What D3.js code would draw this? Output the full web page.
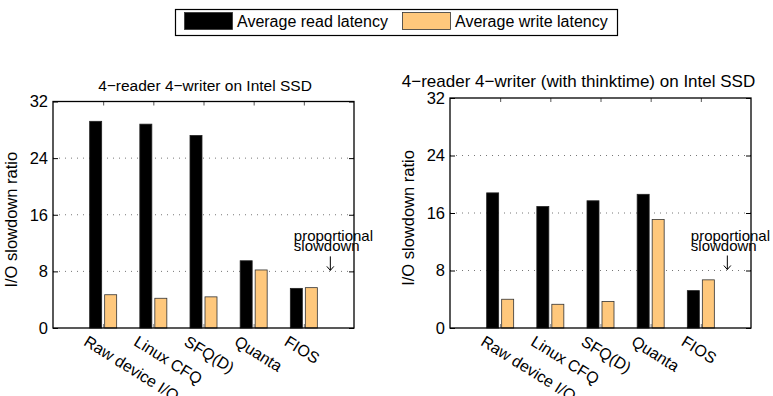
<!DOCTYPE html>
<html>
<head>
<meta charset="utf-8">
<script src="https://cdn.jsdelivr.net/npm/d3@7"></script>
<style>
  body { margin: 0; background: #fff; }
  text { font-family: "Liberation Sans", Arial, sans-serif; fill: #000; }
</style>
</head>
<body>
<div id="chart"></div>
<script>
/* DATA */
var categories = ["Raw device I/O", "Linux CFQ", "SFQ(D)", "Quanta", "FIOS"];
var readLeft  = [29.2, 28.8, 27.2, 9.5, 5.6];
var writeLeft = [4.7, 4.2, 4.4, 8.2, 5.7];
var readRight  = [18.8, 16.9, 17.7, 18.6, 5.2];
var writeRight = [4.0, 3.3, 3.7, 15.1, 6.7];
var yTicks = [0, 8, 16, 24, 32];
var seriesNames = ["Average read latency", "Average write latency"];
var colors = ["#000000", "#FFC87C"];

var width = 773;
var height = 396;

var svg = d3.select("#chart")
  .append("svg")
  .attr("width", width)
  .attr("height", height);

/* LEGEND */
var legend = svg.append("g");
legend.append("rect")
  .attr("x", 175.5).attr("y", 9.5)
  .attr("width", 442).attr("height", 26)
  .attr("fill", "#fff").attr("stroke", "#000").attr("stroke-width", 1.2);
var legendX = [184, 402];
seriesNames.forEach(function(name, i) {
  legend.append("rect")
    .attr("x", legendX[i] + 0.5).attr("y", 12.5)
    .attr("width", 48).attr("height", 17)
    .attr("fill", colors[i])
    .attr("stroke", "#333").attr("stroke-width", 0.8);
  legend.append("text")
    .attr("x", legendX[i] + 53).attr("y", 27)
    .attr("font-size", "16px")
    .text(name);
});

function drawPanel(left, right, top, bottom, title, titleSize, titleShift, readVals, writeVals) {
  var g = svg.append("g");

  var x = d3.scaleLinear().domain([0, categories.length + 1]).range([left, right]);
  var y = d3.scaleLinear().domain([0, 32]).range([bottom, top]);

  // dotted grid
  g.selectAll("line.grid")
    .data(yTicks.filter(function(d) { return d > 0 && d < 32; }))
    .enter()
    .append("line")
    .attr("x1", left).attr("x2", right)
    .attr("y1", function(d) { return y(d); })
    .attr("y2", function(d) { return y(d); })
    .attr("stroke", "#777")
    .attr("stroke-width", 1)
    .attr("stroke-dasharray", "1,5");

  // bars
  var barW = 12;
  g.selectAll("rect.read")
    .data(readVals)
    .enter()
    .append("rect")
    .attr("x", function(d, i) { return x(i + 1) - barW - 1.5; })
    .attr("y", function(d) { return y(d); })
    .attr("width", barW)
    .attr("height", function(d) { return bottom - y(d); })
    .attr("fill", colors[0])
    .attr("stroke", "#222").attr("stroke-width", 0.8);

  g.selectAll("rect.write")
    .data(writeVals)
    .enter()
    .append("rect")
    .attr("x", function(d, i) { return x(i + 1) + 1.5; })
    .attr("y", function(d) { return y(d); })
    .attr("width", barW)
    .attr("height", function(d) { return bottom - y(d); })
    .attr("fill", colors[1])
    .attr("stroke", "#333").attr("stroke-width", 0.8);

  // y axis (left labels, inward ticks) and mirrored right ticks
  var yAxis = g.append("g")
    .attr("transform", "translate(" + left + ",0)")
    .call(d3.axisLeft(y).tickValues(yTicks).tickSize(-5).tickPadding(5).tickFormat(d3.format("d")));
  yAxis.select(".domain").remove();
  yAxis.selectAll("text").attr("font-size", "16.5px")
    .style("font-family", "'Liberation Sans', Arial, sans-serif");

  var yAxisR = g.append("g")
    .attr("transform", "translate(" + right + ",0)")
    .call(d3.axisRight(y).tickValues(yTicks).tickSize(-5).tickFormat(""));
  yAxisR.select(".domain").remove();

  // top and bottom category ticks
  var catTicks = d3.range(1, categories.length + 1);
  var xTop = g.append("g")
    .attr("transform", "translate(0," + top + ")")
    .call(d3.axisTop(x).tickValues(catTicks).tickSize(-4).tickFormat(""));
  xTop.select(".domain").remove();
  xTop.selectAll("line").attr("stroke", "#555");
  var xBot = g.append("g")
    .attr("transform", "translate(0," + bottom + ")")
    .call(d3.axisBottom(x).tickValues(catTicks).tickSize(-4).tickFormat(""));
  xBot.select(".domain").remove();
  xBot.selectAll("line").attr("stroke", "#777");

  // frame
  g.append("rect")
    .attr("x", left).attr("y", top)
    .attr("width", right - left).attr("height", bottom - top)
    .attr("fill", "none").attr("stroke", "#000").attr("stroke-width", 1.3);

  // category labels
  g.selectAll("text.cat")
    .data(categories)
    .enter()
    .append("text")
    .attr("font-size", "16px")
    .attr("transform", function(d, i) {
      return "translate(" + (x(i + 1) - 20.5) + "," + (bottom + 16.5) + ") rotate(32)";
    })
    .text(function(d) { return d; });

  // title
  g.append("text")
    .attr("x", (left + right) / 2 + titleShift)
    .attr("y", top - 11)
    .attr("text-anchor", "middle")
    .attr("font-size", titleSize)
    .text(title);

  // y label
  g.append("text")
    .attr("transform", "translate(" + (left - 36) + "," + ((top + bottom) / 2 + 5) + ") rotate(-90)")
    .attr("text-anchor", "middle")
    .attr("font-size", "16.5px")
    .text("I/O slowdown ratio");

  // annotation
  var tx = x(categories.length) - 10;
  var ax = x(categories.length) + 26.5;
  g.append("text")
    .attr("x", tx).attr("y", y(8) - 30)
    .attr("font-size", "15px")
    .text("proportional");
  g.append("text")
    .attr("x", tx).attr("y", y(8) - 20)
    .attr("font-size", "15px")
    .text("slowdown");
  g.append("path")
    .attr("d", "M" + ax + "," + (y(8) - 15) + "V" + (y(8) - 1) +
               "M" + (ax - 3.5) + "," + (y(8) - 5) + "L" + ax + "," + (y(8) - 1) + "L" + (ax + 3.5) + "," + (y(8) - 5))
    .attr("fill", "none")
    .attr("stroke", "#000")
    .attr("stroke-width", 1);
}

drawPanel(53, 354, 101.5, 328, "4\u2212reader 4\u2212writer on Intel SSD", "15.5px", 1.5, readLeft, writeLeft);
drawPanel(450, 751, 98, 328, "4\u2212reader 4\u2212writer (with thinktime) on Intel SSD", "17px", -22, readRight, writeRight);
</script>
</body>
</html>
